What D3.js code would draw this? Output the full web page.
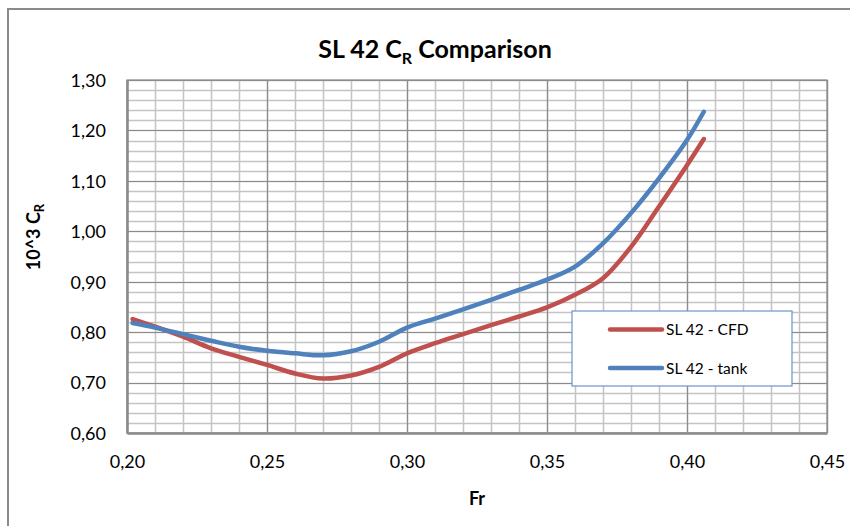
<!DOCTYPE html>
<html>
<head>
<meta charset="utf-8">
<script src="https://cdnjs.cloudflare.com/ajax/libs/d3/7.8.5/d3.min.js"></script>
<style>
  body { margin: 0; background: #fff; }
  text { font-family: Lato, "Open Sans", sans-serif; fill: #000; }
</style>
</head>
<body>
<div id="chartContainer"></div>
<script>
// Froude numbers sampled along both curves
var froude = [0.202, 0.21, 0.22, 0.23, 0.24, 0.25, 0.26, 0.27, 0.28, 0.29, 0.30,
    0.31, 0.32, 0.33, 0.34, 0.35, 0.36, 0.37, 0.38, 0.39, 0.40, 0.406];
var cfdValues = [0.826, 0.811, 0.791, 0.768, 0.751, 0.735, 0.718, 0.708, 0.714, 0.731, 0.758,
    0.778, 0.796, 0.814, 0.831, 0.849, 0.874, 0.907, 0.969, 1.049, 1.131, 1.183];
var tankValues = [0.818, 0.809, 0.796, 0.783, 0.771, 0.763, 0.758, 0.754, 0.762, 0.781, 0.809,
    0.827, 0.845, 0.864, 0.884, 0.904, 0.930, 0.976, 1.036, 1.105, 1.181, 1.237];
var seriesNames = ['SL 42 - CFD', 'SL 42 - tank'];
var xTicks = [0.20, 0.25, 0.30, 0.35, 0.40, 0.45];
var yTicks = [0.60, 0.70, 0.80, 0.90, 1.00, 1.10, 1.20, 1.30];

var width = 850,
    height = 526,
    plotLeft = 127, plotRight = 827, plotTop = 80, plotBottom = 433,
    colors = ['#c0504d', '#4f81bd'],
    majorgrid = '#8c8c8c',
    minorgrid = '#c4c4c4';

var svg = d3.select('#chartContainer').append('svg')
    .attr('width', width)
    .attr('height', height);

// outer chart frame
svg.append('rect')
    .attr('x', 8).attr('y', 9)
    .attr('width', width).attr('height', height)
    .attr('fill', 'none').attr('stroke', '#8a8a8a').attr('stroke-width', 2);

var x = d3.scaleLinear().domain([0.20, 0.45]).range([plotLeft, plotRight]);
var y = d3.scaleLinear().domain([0.60, 1.30]).range([plotBottom, plotTop]);

var comma = function (v) { return d3.format('.2f')(v).replace('.', ','); };

// minor grid
var minorX = d3.range(0, 26).map(function (i) { return 0.20 + i * 0.01; });
var minorY = d3.range(0, 36).map(function (i) { return 0.60 + i * 0.02; });
svg.append('g').selectAll('line').data(minorX).enter().append('line')
    .attr('x1', function (d) { return Math.round(x(d)) + 0.5; })
    .attr('x2', function (d) { return Math.round(x(d)) + 0.5; })
    .attr('y1', plotTop).attr('y2', plotBottom)
    .attr('stroke', minorgrid).attr('stroke-width', 1.5);
svg.append('g').selectAll('line').data(minorY).enter().append('line')
    .attr('y1', function (d) { return Math.round(y(d)) + 0.5; })
    .attr('y2', function (d) { return Math.round(y(d)) + 0.5; })
    .attr('x1', plotLeft).attr('x2', plotRight)
    .attr('stroke', minorgrid).attr('stroke-width', 1.5);

// major grid
svg.append('g').selectAll('line').data(xTicks).enter().append('line')
    .attr('x1', function (d) { return Math.round(x(d)) + 0.5; })
    .attr('x2', function (d) { return Math.round(x(d)) + 0.5; })
    .attr('y1', plotTop).attr('y2', plotBottom)
    .attr('stroke', majorgrid).attr('stroke-width', 1.2);
svg.append('g').selectAll('line').data(yTicks).enter().append('line')
    .attr('y1', function (d) { return Math.round(y(d)) + 0.5; })
    .attr('y2', function (d) { return Math.round(y(d)) + 0.5; })
    .attr('x1', plotLeft).attr('x2', plotRight)
    .attr('stroke', majorgrid).attr('stroke-width', 1.2);

// plot border on right and top
svg.append('rect')
    .attr('x', plotLeft).attr('y', plotTop)
    .attr('width', plotRight - plotLeft).attr('height', plotBottom - plotTop)
    .attr('fill', 'none').attr('stroke', majorgrid).attr('stroke-width', 1.2);

// axes (no tick marks, just labels)
var xAxis = svg.append('g')
    .attr('transform', 'translate(0,' + plotBottom + ')')
    .call(d3.axisBottom(x).tickValues(xTicks).tickFormat(comma).tickSize(0).tickPadding(22));
var yAxis = svg.append('g')
    .attr('transform', 'translate(' + plotLeft + ',0)')
    .call(d3.axisLeft(y).tickValues(yTicks).tickFormat(comma).tickSize(0).tickPadding(21));
[xAxis, yAxis].forEach(function (a) {
    a.select('.domain').attr('stroke', majorgrid).attr('stroke-width', 2.5);
    a.selectAll('text').attr('font-size', 18).attr('font-family', 'Lato, sans-serif');
});
yAxis.selectAll('text').attr('dy', '0.35em');

// series lines
var line = d3.line()
    .x(function (d) { return x(d[0]); })
    .y(function (d) { return y(d[1]); })
    .curve(d3.curveCatmullRom.alpha(0.5));

[cfdValues, tankValues].forEach(function (vals, k) {
    svg.append('path')
        .datum(froude.map(function (f, i) { return [f, vals[i]]; }))
        .attr('d', line)
        .attr('fill', 'none')
        .attr('stroke', colors[k])
        .attr('stroke-width', 4.5)
        .attr('stroke-linecap', 'round')
        .attr('stroke-linejoin', 'round');
});

// legend
var legend = svg.append('g').attr('transform', 'translate(572,311)');
legend.append('rect')
    .attr('width', 220).attr('height', 75)
    .attr('fill', '#fff').attr('stroke', '#6f93c8').attr('stroke-width', 1.2);
seriesNames.forEach(function (name, k) {
    var ly = 18.5 + k * 38.5;
    legend.append('line')
        .attr('x1', 38).attr('x2', 90)
        .attr('y1', ly).attr('y2', ly)
        .attr('stroke', colors[k]).attr('stroke-width', 4.5).attr('stroke-linecap', 'round');
    legend.append('text')
        .attr('x', 94).attr('y', ly + 5.5)
        .attr('font-size', 15.5)
        .text(name);
});

// title
var title = svg.append('text')
    .attr('x', 435).attr('y', 58)
    .attr('text-anchor', 'middle')
    .attr('font-size', 25).attr('font-weight', 'bold');
title.append('tspan').text('SL 42 C');
title.append('tspan').attr('font-size', 16).attr('dy', 6).text('R');
title.append('tspan').attr('dy', -6).text(' Comparison');

// axis titles
svg.append('text')
    .attr('x', 477).attr('y', 505)
    .attr('text-anchor', 'middle')
    .attr('font-size', 18).attr('font-weight', 'bold')
    .text('Fr');

var ytitle = svg.append('text')
    .attr('transform', 'translate(40,237) rotate(-90)')
    .attr('text-anchor', 'middle')
    .attr('font-size', 18).attr('font-weight', 'bold');
ytitle.append('tspan').text('10^3 C');
ytitle.append('tspan').attr('font-size', 13).attr('dy', 4).text('R');
</script>
</body>
</html>
